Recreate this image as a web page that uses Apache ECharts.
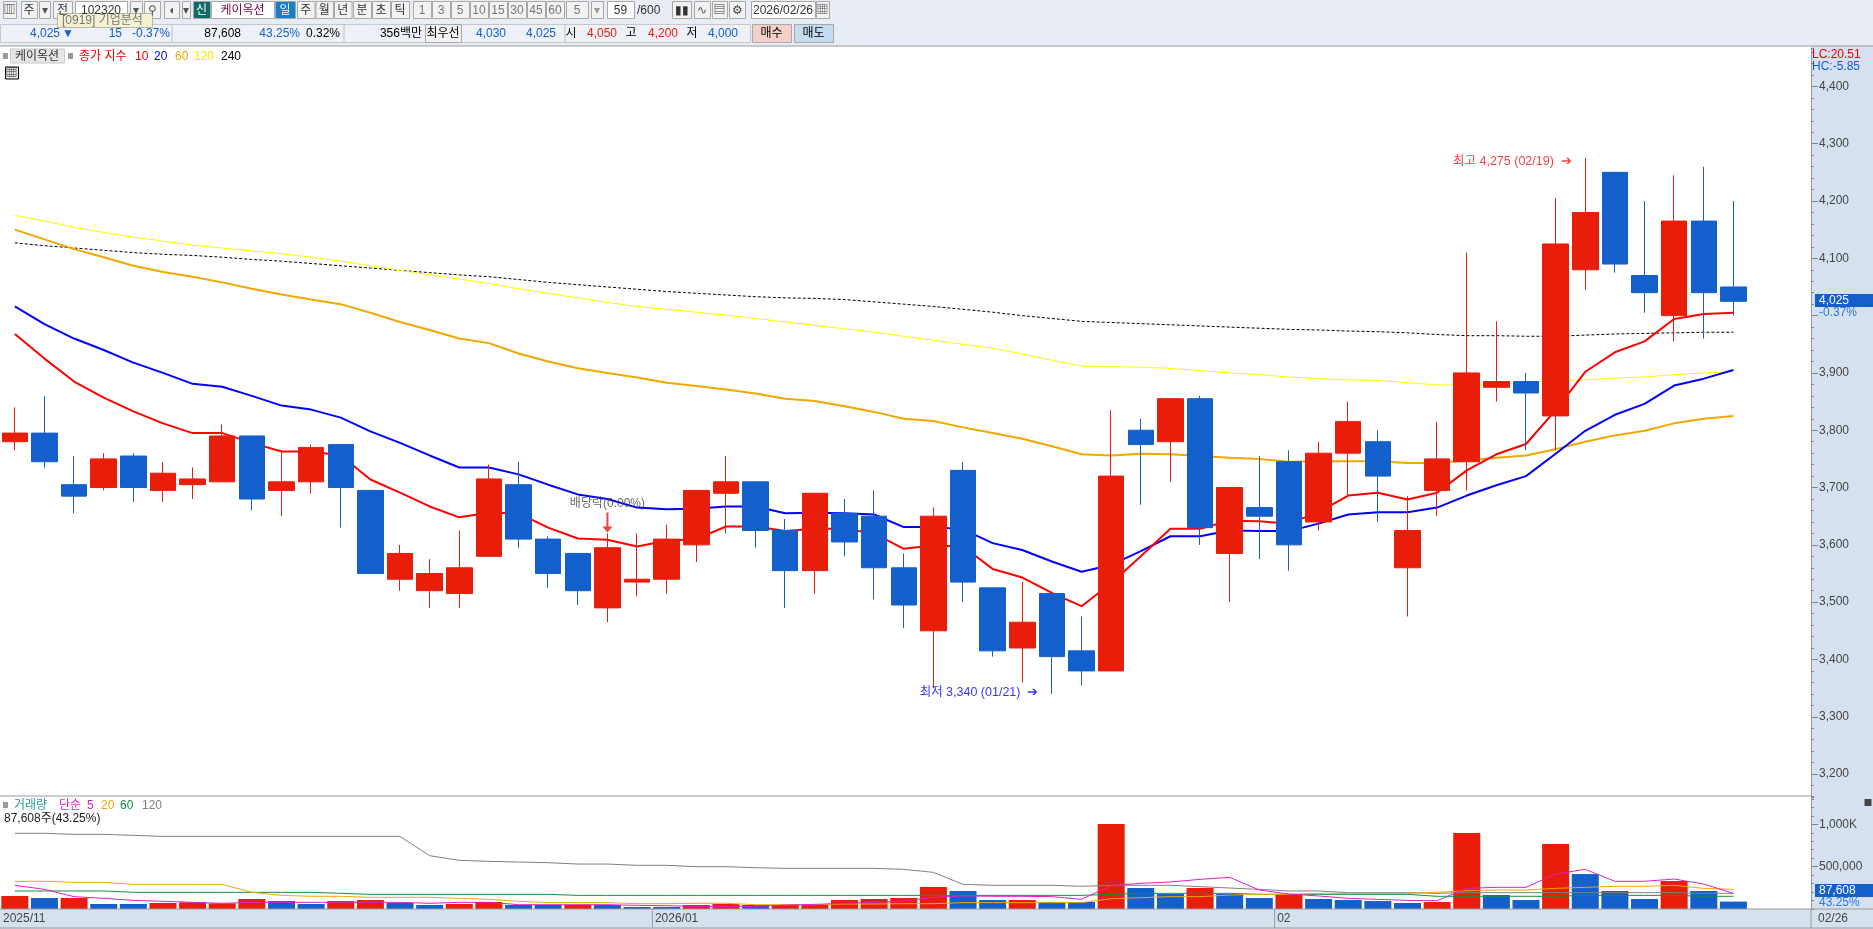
<!DOCTYPE html>
<html>
<head>
<meta charset="utf-8">
<title>케이옥션</title>
<script src="https://cdn.jsdelivr.net/npm/echarts@6/dist/echarts.min.js"></script>
<style>
html,body{margin:0;padding:0;background:#fff;overflow:hidden}
#chart{width:1873px;height:929px}
</style>
</head>
<body>
<div id="chart"></div>
<script>
// 거래일
const dates = [
  '2025/11/28','2025/12/01','2025/12/02','2025/12/03','2025/12/04','2025/12/05','2025/12/08','2025/12/09','2025/12/10','2025/12/11',
  '2025/12/12','2025/12/15','2025/12/16','2025/12/17','2025/12/18','2025/12/19','2025/12/22','2025/12/23','2025/12/24','2025/12/26',
  '2025/12/29','2025/12/30','2026/01/02','2026/01/05','2026/01/06','2026/01/07','2026/01/08','2026/01/09','2026/01/12','2026/01/13',
  '2026/01/14','2026/01/15','2026/01/16','2026/01/19','2026/01/20','2026/01/21','2026/01/22','2026/01/23','2026/01/26','2026/01/27',
  '2026/01/28','2026/01/29','2026/01/30','2026/02/02','2026/02/03','2026/02/04','2026/02/05','2026/02/06','2026/02/09','2026/02/10',
  '2026/02/11','2026/02/12','2026/02/13','2026/02/19','2026/02/20','2026/02/23','2026/02/24','2026/02/25','2026/02/26'
];
// 시가 / 종가 / 고가 / 저가
const opens = [3780,3795,3705,3700,3755,3695,3705,3710,3790,3695,3710,3775,3695,3540,3520,3515,3580,3705,3610,3585,3490,3535,3540,3600,3690,3710,3625,3555,3655,3650,3560,3450,3730,3525,3420,3515,3415,3380,3800,3780,3855,3585,3665,3745,3640,3760,3780,3560,3695,3745,3875,3885,3825,4080,4250,4070,4000,4165,4050];
const closes = [3795,3745,3685,3750,3700,3725,3715,3790,3680,3710,3770,3700,3550,3585,3550,3560,3715,3610,3550,3520,3595,3540,3610,3695,3710,3625,3555,3690,3605,3560,3495,3650,3535,3415,3465,3405,3380,3720,3775,3855,3630,3700,3650,3600,3760,3815,3720,3625,3750,3900,3885,3865,4125,4180,4090,4040,4165,4040,4025];
const highs = [3840,3860,3755,3760,3760,3745,3735,3810,3790,3765,3775,3775,3695,3600,3575,3625,3740,3745,3615,3585,3620,3620,3635,3695,3755,3710,3645,3690,3680,3695,3585,3665,3745,3525,3535,3515,3475,3835,3820,3855,3860,3700,3755,3765,3780,3850,3800,3685,3815,4110,3990,3900,4205,4275,4250,4200,4245,4260,4200];
const lows = [3765,3735,3655,3695,3675,3675,3680,3710,3660,3650,3690,3630,3550,3520,3490,3490,3580,3595,3525,3495,3465,3510,3515,3570,3620,3595,3490,3515,3580,3505,3455,3350,3500,3405,3360,3340,3355,3380,3670,3710,3600,3500,3575,3555,3625,3685,3640,3475,3650,3695,3850,3765,3765,4045,4075,4005,3955,3960,4000];
// 가격 이동평균
const ma10 = [3968,3925,3885,3857,3833,3812,3795,3795,3778,3763,3763,3756,3714,3691,3667,3648,3656,3655,3630,3611,3609,3597,3607,3610,3632,3632,3624,3628,3628,3620,3593,3599,3597,3558,3543,3516,3493,3533,3580,3628,3628,3642,3641,3637,3657,3686,3691,3679,3691,3730,3758,3776,3835,3902,3936,3955,3994,4003,4005];
const ma20 = [4016,3985,3960,3940,3918,3900,3881,3876,3860,3843,3836,3822,3798,3778,3756,3735,3735,3723,3705,3688,3680,3665,3662,3663,3667,3667,3655,3656,3655,3653,3631,3631,3627,3603,3591,3571,3553,3565,3589,3615,3615,3625,3624,3624,3637,3653,3657,3657,3665,3686,3704,3720,3759,3799,3827,3846,3878,3890,3905];
const ma60 = [4150,4133,4116,4102,4087,4076,4068,4058,4047,4037,4028,4020,4005,3989,3975,3960,3952,3934,3920,3908,3900,3892,3883,3877,3871,3864,3855,3851,3842,3832,3820,3816,3805,3795,3785,3772,3758,3756,3759,3758,3755,3752,3750,3745,3746,3746,3746,3743,3743,3747,3752,3756,3767,3780,3791,3799,3812,3820,3825];
const ma120 = [4175,4165,4154,4145,4137,4130,4123,4118,4113,4108,4102,4095,4087,4079,4071,4064,4056,4047,4039,4031,4023,4016,4011,4006,4001,3995,3989,3983,3977,3971,3964,3957,3950,3943,3933,3922,3912,3911,3910,3908,3904,3900,3897,3893,3890,3888,3887,3883,3879,3879,3881,3883,3886,3888,3891,3893,3897,3900,3902];
const ma240 = [4127,4122,4118,4114,4110,4107,4105,4102,4098,4095,4091,4087,4083,4079,4075,4071,4068,4063,4058,4054,4050,4046,4042,4039,4036,4033,4031,4030,4028,4024,4020,4016,4011,4006,4000,3995,3990,3988,3986,3984,3982,3980,3978,3976,3975,3973,3972,3970,3967,3965,3965,3964,3964,3966,3968,3969,3970,3971,3971];
// 거래량 (1=상승 막대, 0=하락 막대)
const volumes = [154000,130000,130000,59000,59000,71000,79000,67000,118000,94000,59000,94000,106000,71000,47000,59000,83000,47000,47000,47000,47000,24000,24000,47000,59000,47000,47000,47000,106000,118000,130000,260000,213000,106000,106000,83000,83000,1004000,248000,177000,248000,177000,130000,177000,118000,106000,94000,71000,83000,898000,165000,106000,768000,413000,213000,118000,331000,213000,87608];
const volumeUp = [1,0,1,0,0,1,1,1,1,0,0,1,1,0,0,1,1,0,0,1,0,0,0,1,1,0,1,1,1,1,1,1,0,0,1,0,0,1,0,0,1,0,0,1,0,0,0,0,1,1,0,0,1,0,0,0,1,0,0];
// 거래량 이동평균
const vol5 = [280000,232000,146000,126000,102000,91000,79000,67000,79000,79000,79000,79000,79000,79000,67000,79000,79000,51000,51000,51000,51000,43000,39000,31000,31000,31000,47000,55000,67000,79000,94000,138000,154000,150000,150000,146000,114000,276000,303000,319000,350000,374000,224000,177000,154000,126000,114000,102000,98000,244000,256000,256000,413000,469000,327000,327000,354000,295000,185000];
const vol20 = [327000,327000,315000,315000,291000,291000,291000,291000,197000,161000,150000,150000,138000,138000,138000,126000,114000,91000,75000,75000,75000,63000,63000,67000,67000,51000,51000,51000,59000,59000,63000,63000,75000,75000,75000,75000,75000,122000,134000,146000,146000,165000,173000,173000,185000,185000,185000,185000,197000,216000,224000,224000,244000,256000,268000,268000,280000,244000,232000];
const vol60 = [213000,213000,213000,213000,197000,197000,197000,197000,197000,197000,197000,185000,173000,173000,173000,173000,173000,173000,173000,161000,161000,161000,161000,161000,161000,161000,161000,161000,161000,161000,161000,161000,161000,161000,161000,161000,161000,173000,185000,185000,185000,185000,173000,173000,173000,173000,173000,173000,150000,150000,150000,150000,150000,161000,161000,161000,161000,150000,150000];
const vol120 = [894000,894000,882000,882000,870000,858000,858000,858000,858000,858000,858000,858000,858000,858000,630000,575000,563000,555000,547000,531000,531000,516000,516000,500000,500000,488000,480000,480000,480000,480000,469000,433000,291000,280000,280000,280000,268000,280000,280000,280000,264000,248000,232000,213000,213000,193000,193000,193000,185000,193000,193000,193000,193000,193000,193000,193000,193000,185000,185000];
// 축 눈금 (4,000 라벨은 현재가 표시에 가려져 있다)
const priceTicks = [3200,3300,3400,3500,3600,3700,3800,3900,4000,4100,4200,4300,4400];
const priceLabels = [3200,3300,3400,3500,3600,3700,3800,3900,4100,4200,4300,4400];
const volumeTicks = [500000,1000000];
const axisMonths = [['2025/11/28','2025/11'],['2026/01/02','2026/01'],['2026/02/02','02']];
// 주석
const noteDates = ['2026/02/19','2026/01/21'];
const noteValues = [4275,3340];
const noteTexts = ['최고 4,275 (02/19)','최저 3,340 (01/21)'];
const noteColors = ['#F01010','#0000F0'];
const noteShift = [4, -1];
const dividendDate = '2025/12/29';
const dividendValue = 3620;

const UP = '#E81D0A', DOWN = '#135FCB', PANEL = '#D6E1EF', EDGE = '#9A9A9A', BAR = '#E8ECF4';
const FONT = '12px "Liberation Sans","Noto Sans CJK KR",sans-serif';
const cats = dates.concat(['', ' ']);
const comma = v => String(v).replace(/\B(?=(\d{3})+$)/g, ',');

const chart = echarts.init(document.getElementById('chart'));

const maLine = (name, data, color, width, type) => ({
  name, type: 'line', data, xAxisIndex: 0, yAxisIndex: 0, z: 1,
  showSymbol: false, silent: true, lineStyle: { color, width, type: type || 'solid' }
});
const volLine = (name, data, color) => ({
  name, type: 'line', data, xAxisIndex: 1, yAxisIndex: 2, z: 3,
  showSymbol: false, silent: true, lineStyle: { color, width: 1 }
});

chart.setOption({
  animation: false,
  textStyle: { fontFamily: '"Liberation Sans","Noto Sans CJK KR",sans-serif' },
  grid: [
    { left: -0.5, width: 1808, top: 48, height: 749 },
    { left: -0.5, width: 1808, top: 796, height: 113 }
  ],
  xAxis: [
    { type: 'category', gridIndex: 0, data: cats, axisLine: { show: false }, axisTick: { show: false }, axisLabel: { show: false } },
    { type: 'category', gridIndex: 1, data: cats, axisLine: { show: false }, axisTick: { show: false }, axisLabel: { show: false } }
  ],
  yAxis: [
    {
      type: 'value', gridIndex: 0, position: 'right', offset: 3.5, min: 3160, max: 4467, interval: 20,
      splitLine: { show: false },
      axisLine: { show: true, lineStyle: { color: EDGE } },
      axisTick: { show: true, length: 7, lineStyle: { color: '#888' }, customValues: priceTicks },
      axisLabel: { customValues: priceLabels, formatter: comma, color: '#444', fontSize: 12, margin: 8 }
    },
    {
      type: 'value', gridIndex: 0, position: 'right', offset: 3.5, min: 3160, max: 4467, interval: 20,
      splitLine: { show: false }, axisLine: { show: false },
      axisTick: { show: true, length: 3, lineStyle: { color: '#888' } },
      axisLabel: { show: false }
    },
    {
      type: 'value', gridIndex: 1, position: 'right', offset: 3.5, min: 0, max: 1335000, interval: 100000,
      splitLine: { show: false },
      axisLine: { show: true, lineStyle: { color: EDGE } },
      axisTick: { show: true, length: 7, lineStyle: { color: '#888' }, customValues: volumeTicks },
      axisLabel: {
        customValues: volumeTicks, color: '#444', fontSize: 12, margin: 8,
        formatter: v => (v >= 1000000 ? comma(v / 1000) + 'K' : comma(v))
      }
    },
    {
      type: 'value', gridIndex: 1, position: 'right', offset: 3.5, min: 0, max: 1335000, interval: 100000,
      splitLine: { show: false }, axisLine: { show: false },
      axisTick: { show: true, length: 3, lineStyle: { color: '#888' } },
      axisLabel: { show: false }
    }
  ],
  series: [
    maLine('240', ma240, '#000', 1, [3, 2]),
    maLine('120', ma120, '#FFFF00', 1),
    maLine('60', ma60, '#F0A800', 2),
    maLine('20', ma20, '#0000FF', 2),
    maLine('10', ma10, '#FF0000', 2),
    {
      name: '케이옥션', type: 'candlestick', xAxisIndex: 0, yAxisIndex: 0, z: 2, silent: true,
      barWidth: 26,
      data: dates.map((d, i) => [opens[i], closes[i], lows[i], highs[i]]),
      itemStyle: { color: UP, color0: DOWN, borderColor: UP, borderColor0: DOWN, borderWidth: 1 }
    },
    {
      name: '최고최저', type: 'scatter', xAxisIndex: 0, yAxisIndex: 0, z: 4, silent: true,
      symbolSize: 1, itemStyle: { color: 'transparent' },
      data: noteDates.map((d, i) => ({
        value: [d, noteValues[i]],
        label: {
          show: true, color: noteColors[i], position: 'left', distance: 13, fontSize: 12.5,
          offset: [0, noteShift[i]], formatter: noteTexts[i] + '  ➔'
        }
      }))
    },
    {
      name: '배당락', type: 'scatter', xAxisIndex: 0, yAxisIndex: 0, z: 4, silent: true,
      data: [[dividendDate, dividendValue]],
      symbol: 'path://M4 0 L6 0 L6 14 L10 14 L5 20 L0 14 L4 14 Z',
      symbolSize: [10, 20], symbolOffset: [0, -11],
      itemStyle: { color: '#F01010' },
      label: {
        show: true, position: 'top', distance: 3, color: '#444', fontSize: 12,
        formatter: '배당락(0.00%)'
      }
    },
    {
      name: '거래량', type: 'bar', xAxisIndex: 1, yAxisIndex: 2, z: 2, silent: true, barWidth: 27,
      data: volumes.map((v, i) => ({ value: v, itemStyle: { color: volumeUp[i] ? UP : DOWN } }))
    },
    volLine('vol120', vol120, '#808080'),
    volLine('vol60', vol60, '#109040'),
    volLine('vol20', vol20, '#F0A800'),
    volLine('vol5', vol5, '#E020C0')
  ]
});

// 화면 상단 도구모음, 범례, 우측 패널은 그래픽 요소로 그린다
const g = [];
const rect = (x, y, w, h, fill, stroke, z) => g.push({
  type: 'rect', silent: true, z: z === undefined ? -1 : z,
  shape: { x, y, width: w, height: h },
  style: { fill, stroke: stroke || null, lineWidth: 1 }
});
const text = (x, y, s, fill, align, z) => g.push({
  type: 'text', silent: true, z: z === undefined ? 5 : z,
  style: { x, y, text: s, fill: fill || '#000', font: FONT, textAlign: align || 'left', textVerticalAlign: 'middle' }
});
const btn = (x0, x1, s, opt) => {
  opt = opt || {};
  rect(x0 + 0.5, opt.y0 || 1.5, x1 - x0, opt.h || 17, opt.bg || '#F2F2F2', opt.line || '#A8A8A8', 3);
  if (s) text((x0 + x1) / 2, (opt.y0 || 1.5) + (opt.h || 17) / 2 + 0.5, s, opt.color || '#333', 'center');
};

// 배경
rect(0, 0, 1873, 46, BAR);
rect(1811, 46, 62, 883, PANEL);
rect(0, 909, 1811, 20, PANEL);
rect(0, 45.5, 1873, 1, EDGE, null, 3);
rect(0, 795.5, 1811, 1, EDGE, null, 3);
rect(0, 908.5, 1873, 1, EDGE, null, 3);
rect(0, 927.5, 1873, 1, EDGE, null, 3);

// 1행
btn(3, 16, '▥', { color: '#333' });
btn(21, 37, '주');
btn(39, 50, '▾', { color: '#555' });
btn(53, 72, '전');
btn(75, 127, '102320', { bg: '#fff' });
btn(130, 142, '▾', { color: '#555' });
btn(144, 160, '⚲', { color: '#555' });
btn(164, 179, '◖', { color: '#555' });
btn(182, 190, '▾', { color: '#555' });
btn(193, 210, '신', { bg: '#0F6B66', color: '#fff' });
btn(211, 274, '케이옥션', { bg: '#fff', color: '#7A0045' });
btn(275, 295, '일', { bg: '#1580C8', color: '#fff' });
['주', '월', '년'].forEach((s, i) => btn(297 + i * 18.5, 314.5 + i * 18.5, s));
['분', '초', '틱'].forEach((s, i) => btn(353 + i * 19, 371 + i * 19, s));
['1', '3', '5', '10', '15', '30', '45', '60'].forEach((s, i) => btn(413 + i * 19, 431 + i * 19, s, { color: '#777' }));
btn(566, 588, '5', { color: '#777' });
btn(591, 603, '▾', { color: '#999' });
btn(607, 634, '59', { bg: '#fff' });
text(637, 10.5, '/600', '#333');
btn(672, 691, '▮▮', { color: '#333' });
btn(694, 710, '∿', { color: '#555' });
btn(712, 727, '▤', { color: '#333' });
btn(729, 745, '⚙', { color: '#444' });
btn(751, 815, '2026/02/26', { bg: '#fff' });
btn(816, 829, '▦', { color: '#555' });
// 풍선 도움말
rect(57.5, 13.5, 95, 14, '#F4F2D0', '#B8B8A0', 4);
text(62, 20.5, '[0919] 기업분석', '#777', 'left', 6);

// 2행
rect(0.5, 24.5, 750, 18, '#EEF1F7', '#C8C8C8');
rect(171.5, 25, 1, 17, '#C0C0C0', null, 1);
rect(343.5, 25, 1, 17, '#C0C0C0', null, 1);
rect(564.5, 25, 1, 17, '#C0C0C0', null, 1);
text(60, 33.5, '4,025', DOWN, 'right');
text(68, 33.5, '▼', DOWN, 'center');
text(122, 33.5, '15', DOWN, 'right');
text(170, 33.5, '-0.37%', DOWN, 'right');
text(241, 33.5, '87,608', '#000', 'right');
text(300, 33.5, '43.25%', DOWN, 'right');
text(340, 33.5, '0.32%', '#000', 'right');
text(422, 33.5, '356백만', '#000', 'right');
btn(425, 461, '최우선', { y0: 24.5, h: 18, color: '#000' });
text(506, 33.5, '4,030', DOWN, 'right');
text(556, 33.5, '4,025', DOWN, 'right');
text(571, 33.5, '시', '#000', 'center');
text(617, 33.5, '4,050', UP, 'right');
text(631, 33.5, '고', '#000', 'center');
text(678, 33.5, '4,200', UP, 'right');
text(692, 33.5, '저', '#000', 'center');
text(738, 33.5, '4,000', DOWN, 'right');
btn(752, 791, '매수', { y0: 24.5, h: 18, bg: '#F5D0C8', color: '#000' });
btn(794, 833, '매도', { y0: 24.5, h: 18, bg: '#C5DBF0', color: '#000' });

// 가격 범례
rect(3, 53, 5, 6, '#999');
btn(10, 64, '케이옥션', { y0: 49, h: 14, bg: '#E6E6E6', line: '#C8C8C8', color: '#333' });
rect(68, 53, 5, 6, '#999');
text(79, 56.5, '종가 지수', '#F00000');
text(135, 56.5, '10', '#F00000');
text(154, 56.5, '20', '#0000F0');
text(175, 56.5, '60', '#F0A800');
text(194, 56.5, '120', '#FFE800');
text(221, 56.5, '240', '#000');
btn(5, 18, '▦', { y0: 67, h: 12, bg: '#E8E8E8', line: '#000', color: '#333' });

// 거래량 범례
rect(3, 802, 5, 6, '#999');
text(14, 805.5, '거래량', '#2A9A9A');
text(59, 805.5, '단순', '#E020C0');
text(87, 805.5, '5', '#E020C0');
text(101, 805.5, '20', '#F0A800');
text(120, 805.5, '60', '#109040');
text(142, 805.5, '120', '#808080');
text(4, 818.5, '87,608주(43.25%)', '#222');

// 우측 패널
text(1812, 54.5, 'LC:20.51', '#F00000');
text(1812, 66.5, 'HC:-5.85', DOWN);
rect(1815, 294, 58, 13, DOWN, null, 4);
text(1819, 301, '4,025', '#fff', 'left', 6);
text(1819, 313, '-0.37%', '#2A78D8', 'left', 6);
rect(1815, 884, 58, 13, DOWN, null, 4);
text(1819, 891, '87,608', '#fff', 'left', 6);
text(1819, 903, '43.25%', '#2A78D8', 'left', 6);
rect(1864.5, 799, 7, 7, '#444', null, 4);
text(1818, 918.5, '02/26', '#444');
rect(1810.5, 909, 1, 19, EDGE, null, 3);

// 날짜축 라벨은 밴드 왼쪽 끝에 맞춘다
const bandWidth = 1808 / cats.length;
axisMonths.forEach(([d, label], i) => {
  const x = chart.convertToPixel({ xAxisIndex: 1 }, d) - bandWidth / 2;
  if (i > 0) rect(x, 909, 1, 19, EDGE, null, 3);
  text(x + 3, 918.5, label, '#444');
});

chart.setOption({ graphic: { elements: g } });

window.addEventListener('resize', () => chart.resize());
</script>
</body>
</html>
